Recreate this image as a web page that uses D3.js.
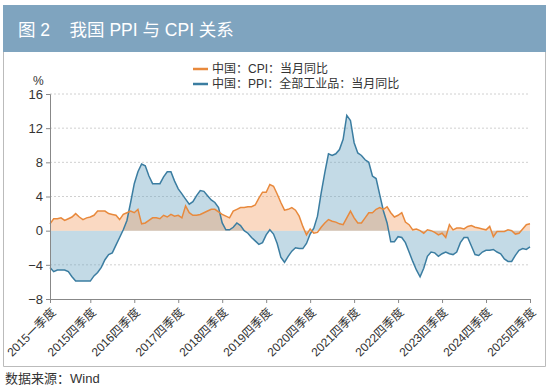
<!DOCTYPE html>
<html>
<head>
<meta charset="utf-8">
<script src="https://cdn.jsdelivr.net/npm/d3@7"></script>
<style>
  body { margin: 0; background: #fff; }
  text { font-family: "Liberation Sans", "Noto Sans CJK SC", sans-serif; }
</style>
</head>
<body>
<div id="d3Container"></div>
<script>
// monthly, Jan 2015 .. Dec 2025
const cpi = [
  0.8, 1.4, 1.4, 1.5, 1.2, 1.4, 1.6, 2.0, 1.6, 1.3, 1.5, 1.6,
  1.8, 2.3, 2.3, 2.3, 2.0, 1.9, 1.8, 1.3, 1.9, 2.1, 2.3, 2.1,
  2.5, 0.8, 0.9, 1.2, 1.5, 1.5, 1.4, 1.8, 1.6, 1.9, 1.7, 1.8,
  1.5, 2.9, 2.1, 1.8, 1.8, 1.9, 2.1, 2.3, 2.5, 2.5, 2.2, 1.9,
  1.7, 1.5, 2.3, 2.5, 2.7, 2.7, 2.8, 2.8, 3.0, 3.8, 4.5, 4.5,
  5.4, 5.2, 4.3, 3.3, 2.4, 2.5, 2.7, 2.4, 1.7, 0.5, -0.5, 0.2,
  -0.3, -0.2, 0.4, 0.9, 1.3, 1.1, 1.0, 0.8, 0.7, 1.5, 2.3, 1.5,
  0.9, 0.9, 1.5, 2.1, 2.1, 2.5, 2.7, 2.5, 2.8, 2.1, 1.6, 1.8,
  2.1, 1.0, 0.7, 0.1, 0.2, 0.0, -0.3, 0.1, 0.0, -0.2, -0.5, -0.3,
  -0.8, 0.7, 0.1, 0.3, 0.3, 0.2, 0.5, 0.6, 0.4, 0.3, 0.2, 0.1,
  0.5, -0.7, -0.1, -0.1, -0.1, 0.1, 0.0, -0.4, -0.3, 0.2, 0.7, 0.8
];
const ppi = [
  -4.3, -4.8, -4.6, -4.6, -4.6, -4.8, -5.4, -5.9, -5.9, -5.9, -5.9, -5.9,
  -5.3, -4.9, -4.3, -3.4, -2.8, -2.6, -1.7, -0.8, 0.1, 1.2, 3.3, 5.5,
  6.9, 7.8, 7.6, 6.4, 5.5, 5.5, 5.5, 6.3, 6.9, 6.9, 5.8, 4.9,
  4.3, 3.7, 3.1, 3.4, 4.1, 4.7, 4.6, 4.1, 3.6, 3.3, 2.7, 0.9,
  0.1, 0.1, 0.4, 0.9, 0.6, 0.0, -0.3, -0.8, -1.2, -1.6, -1.4, -0.5,
  0.1, -0.4, -1.5, -3.1, -3.7, -3.0, -2.4, -2.0, -2.1, -2.1, -1.5, -0.4,
  0.3, 1.7, 4.4, 6.8, 9.0, 8.8, 9.0, 9.5, 10.7, 13.5, 12.9, 10.3,
  9.1, 8.8, 8.3, 8.0, 6.4, 6.1, 4.2, 2.3, 0.9, -1.3, -1.3, -0.7,
  -0.8, -1.4, -2.5, -3.6, -4.6, -5.4, -4.4, -3.0, -2.5, -2.6, -3.0, -2.7,
  -2.5, -2.7, -2.8, -2.5, -1.4, -0.8, -0.8, -1.8, -2.8, -2.9, -2.5, -2.3,
  -2.3, -2.2, -2.5, -2.7, -3.3, -3.6, -3.6, -2.9, -2.3, -2.1, -2.2, -1.9
];
const tickIdx = [0, 11, 23, 35, 47, 59, 71, 83, 95, 107, 119, 131];
const tickLabels = ['2015一季度', '2015四季度', '2016四季度', '2017四季度', '2018四季度', '2019四季度',
  '2020四季度', '2021四季度', '2022四季度', '2023四季度', '2024四季度', '2025四季度'];
const yTicks = [-8, -4, 0, 4, 8, 12, 16];
const seriesNames = ['中国：CPI：当月同比', '中国：PPI：全部工业品：当月同比'];

const w = 550, h = 386;
const svg = d3.select('#d3Container').append('svg')
  .attr('width', w)
  .attr('height', h);

// title bar + frame
svg.append('rect').attr('x', 3).attr('y', 5).attr('width', 543).attr('height', 47).attr('fill', '#7fa4bf');
svg.append('text').attr('x', 18).attr('y', 36).attr('fill', '#fff').style('font-size', '17.5px')
  .attr('xml:space', 'preserve').text('图 2    我国 PPI 与 CPI 关系');
svg.append('path').attr('d', 'M3.5,52V366.5H545.5V52').attr('fill', 'none').attr('stroke', '#bbb');
svg.append('text').attr('x', 5).attr('y', 383).attr('fill', '#333').style('font-size', '13px').text('数据来源：Wind');

const x = d3.scaleLinear().domain([0, 131]).range([50, 530]);
const y = d3.scaleLinear().domain([-8, 16]).range([299, 94]);

// grid
svg.append('g').selectAll('line')
  .data(yTicks.filter(d => d !== -8 && d !== 0))
  .enter().append('line')
  .attr('x1', 50).attr('x2', 530)
  .attr('y1', d => y(d)).attr('y2', d => y(d))
  .attr('stroke', '#d0d0d0').attr('stroke-dasharray', '2,2');

const area = d3.area().x((d, i) => x(i)).y0(y(0)).y1(d => y(d));
const line = d3.line().x((d, i) => x(i)).y(d => y(d));

svg.append('path').datum(ppi).attr('d', area).attr('fill', '#6fa8c4').attr('fill-opacity', 0.42);
svg.append('path').datum(cpi).attr('d', area).attr('fill', '#f2a066').attr('fill-opacity', 0.4);
svg.append('path').datum(ppi).attr('d', line).attr('fill', 'none').attr('stroke', '#3b7da1').attr('stroke-width', 1.5);
svg.append('path').datum(cpi).attr('d', line).attr('fill', 'none').attr('stroke', '#e8893c').attr('stroke-width', 1.5);

// axes
const yAxis = d3.axisLeft(y).tickValues(yTicks).tickSize(4).tickFormat(d => d < 0 ? '−' + Math.abs(d) : d);
const gy = svg.append('g').attr('transform', 'translate(50,0)').call(yAxis);
gy.selectAll('text').style('font-size', '13px').attr('fill', '#333');

const xAxis = d3.axisBottom(x).tickValues(tickIdx).tickSize(4).tickFormat((d, i) => tickLabels[i]);
const gx = svg.append('g').attr('transform', 'translate(0,299)').call(xAxis);
gx.selectAll('text').style('font-size', '12px').attr('fill', '#333')
  .attr('text-anchor', 'end').attr('dy', '0.35em')
  .attr('transform', 'translate(3,11) rotate(-45)').attr('y', 0).attr('x', 0);
[gx, gy].forEach(g => {
  g.select('.domain').attr('stroke', '#888');
  g.selectAll('.tick line').attr('stroke', '#888');
});

svg.append('text').attr('x', 33).attr('y', 85).attr('fill', '#333').style('font-size', '12px').text('%');

// legend
const lg = svg.append('g');
[['#e8893c', 69], ['#3b7da1', 84]].forEach(([c, ly], i) => {
  lg.append('line').attr('x1', 193).attr('x2', 208).attr('y1', ly).attr('y2', ly)
    .attr('stroke', c).attr('stroke-width', 2.5);
  lg.append('text').attr('x', 212).attr('y', ly + 4).attr('fill', '#333')
    .style('font-size', '12px').text(seriesNames[i]);
});
</script>
</body>
</html>
